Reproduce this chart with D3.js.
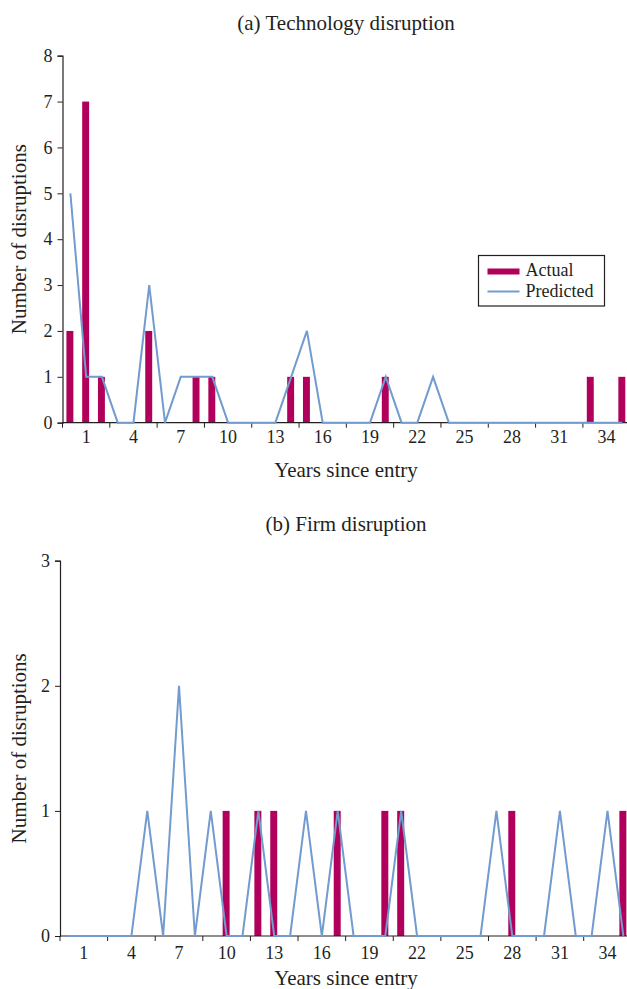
<!DOCTYPE html>
<html>
<head>
<meta charset="utf-8">
<script src="https://cdn.jsdelivr.net/npm/d3@7"></script>
<style>
  body { margin: 0; background: #fff; }
  svg text { font-family: "Liberation Serif", "Times New Roman", serif; fill: #231f20; }
</style>
</head>
<body>
<div id="svg-container"></div>
<script>
// ---------------- data ----------------
const years = [0,1,2,3,4,5,6,7,8,9,10,11,12,13,14,15,16,17,18,19,20,21,22,23,24,25,26,27,28,29,30,31,32,33,34,35];
const yearLabels = [1,4,7,10,13,16,19,22,25,28,31,34];

const techActual    = [2,7,1,0,0,2,0,0,1,1,0,0,0,0,1,1,0,0,0,0,1,0,0,0,0,0,0,0,0,0,0,0,0,1,0,1];
const techPredicted = [5,1,1,0,0,3,0,1,1,1,0,0,0,0,1,2,0,0,0,0,1,0,0,1,0,0,0,0,0,0,0,0,0,0,0,0];

const firmActual    = [0,0,0,0,0,0,0,0,0,0,1,0,1,1,0,0,0,1,0,0,1,1,0,0,0,0,0,0,1,0,0,0,0,0,0,1];
const firmPredicted = [0,0,0,0,0,1,0,2,0,1,0,0,1,0,0,1,0,1,0,0,0,1,0,0,0,0,0,1,0,0,0,1,0,0,1,0];

const techTicks = [0,1,2,3,4,5,6,7,8];
const firmTicks = [0,1,2,3];

// ---------------- setup ----------------
const width = 627, height = 989;
const barColor = "#b0005b";
const lineColor = "#729bcf";
const inkColor = "#231f20";

const svg = d3.select("#svg-container").append("svg")
  .attr("width", width).attr("height", height);

function drawPanel(cfg) {
  const g = svg.append("g");

  const xScale = d3.scaleBand()
    .domain(years)
    .range([cfg.left, cfg.right])
    .paddingInner(0).paddingOuter(0);

  const yScale = d3.scaleLinear()
    .domain([0, d3.max(cfg.yTicks)])
    .range([cfg.bottom, cfg.top]);

  const bw = xScale.bandwidth();
  const barW = bw * 0.44;

  // title
  g.append("text")
    .attr("x", 346)
    .attr("y", cfg.titleY)
    .attr("text-anchor", "middle")
    .style("font-size", "21px")
    .text(cfg.title);

  // y axis
  const yAxis = d3.axisLeft(yScale)
    .tickValues(cfg.yTicks)
    .tickFormat(d3.format("d"))
    .tickSize(5)
    .tickPadding(5);

  const yg = g.append("g")
    .attr("transform", `translate(${cfg.left},0)`)
    .call(yAxis);
  yg.select(".domain").attr("stroke", inkColor).attr("stroke-width", 1.2);
  yg.selectAll(".tick line").attr("stroke", inkColor);
  yg.selectAll(".tick text").style("font-size", "18px").attr("fill", inkColor);

  // y axis title
  g.append("text")
    .attr("transform", `translate(26,${(cfg.top + cfg.bottom) / 2}) rotate(-90)`)
    .attr("text-anchor", "middle")
    .style("font-size", "21px")
    .text("Number of disruptions");

  // bars
  g.selectAll(".bar")
    .data(years)
    .join("rect")
    .attr("class", "bar")
    .attr("x", (d) => xScale(d) + bw / 2 - barW / 2 - 0.5)
    .attr("y", (d, i) => yScale(cfg.actual[i]))
    .attr("width", barW)
    .attr("height", (d, i) => cfg.bottom - yScale(cfg.actual[i]))
    .attr("fill", barColor);

  // x axis: labels on category centres
  const xAxis = d3.axisBottom(xScale)
    .tickValues(yearLabels)
    .tickSize(0)
    .tickPadding(cfg.labelPad);

  const xg = g.append("g")
    .attr("transform", `translate(0,${cfg.bottom})`)
    .call(xAxis);
  xg.select(".domain").remove();
  xg.selectAll(".tick text").style("font-size", "18px").attr("fill", inkColor);

  // axis line + tick marks between every third category
  g.append("line")
    .attr("x1", cfg.left).attr("x2", cfg.right)
    .attr("y1", cfg.bottom).attr("y2", cfg.bottom)
    .attr("stroke", inkColor).attr("stroke-width", 1.2);

  g.selectAll(".xtick")
    .data(years.filter((d) => d % 3 === 0))
    .join("line")
    .attr("class", "xtick")
    .attr("x1", (d) => xScale(d)).attr("x2", (d) => xScale(d))
    .attr("y1", cfg.bottom).attr("y2", cfg.bottom + 5)
    .attr("stroke", inkColor);

  // predicted line
  const line = d3.line()
    .x((d) => xScale(d) + bw / 2)
    .y((d, i) => yScale(cfg.predicted[i]));

  g.append("path")
    .datum(years)
    .attr("fill", "none")
    .attr("stroke", lineColor)
    .attr("stroke-width", 2)
    .attr("d", line);

  // x axis title
  g.append("text")
    .attr("x", 346)
    .attr("y", cfg.xTitleY)
    .attr("text-anchor", "middle")
    .style("font-size", "21px")
    .text("Years since entry");

  return g;
}

const techPanel = drawPanel({
  title: "(a) Technology disruption",
  titleY: 30,
  left: 62.5, right: 630.2,
  top: 55.7, bottom: 422.7,
  yTicks: techTicks,
  actual: techActual,
  predicted: techPredicted,
  labelPad: 8,
  xTitleY: 477
});

drawPanel({
  title: "(b) Firm disruption",
  titleY: 531,
  left: 60, right: 631.3,
  top: 560.7, bottom: 936,
  yTicks: firmTicks,
  actual: firmActual,
  predicted: firmPredicted,
  labelPad: 10,
  xTitleY: 985
});

// legend (top panel)
const legend = techPanel.append("g").attr("transform", "translate(478.5,255.5)");
legend.append("rect")
  .attr("width", 126).attr("height", 50.5)
  .attr("fill", "#fff").attr("stroke", inkColor).attr("stroke-width", 1.2);
legend.append("rect")
  .attr("x", 9).attr("y", 13).attr("width", 32).attr("height", 6)
  .attr("fill", barColor);
legend.append("line")
  .attr("x1", 9).attr("x2", 41).attr("y1", 36).attr("y2", 36)
  .attr("stroke", lineColor).attr("stroke-width", 2);
legend.append("text")
  .attr("x", 47).attr("y", 20)
  .style("font-size", "18px")
  .text("Actual");
legend.append("text")
  .attr("x", 47).attr("y", 41)
  .style("font-size", "18px")
  .text("Predicted");
</script>
</body>
</html>
